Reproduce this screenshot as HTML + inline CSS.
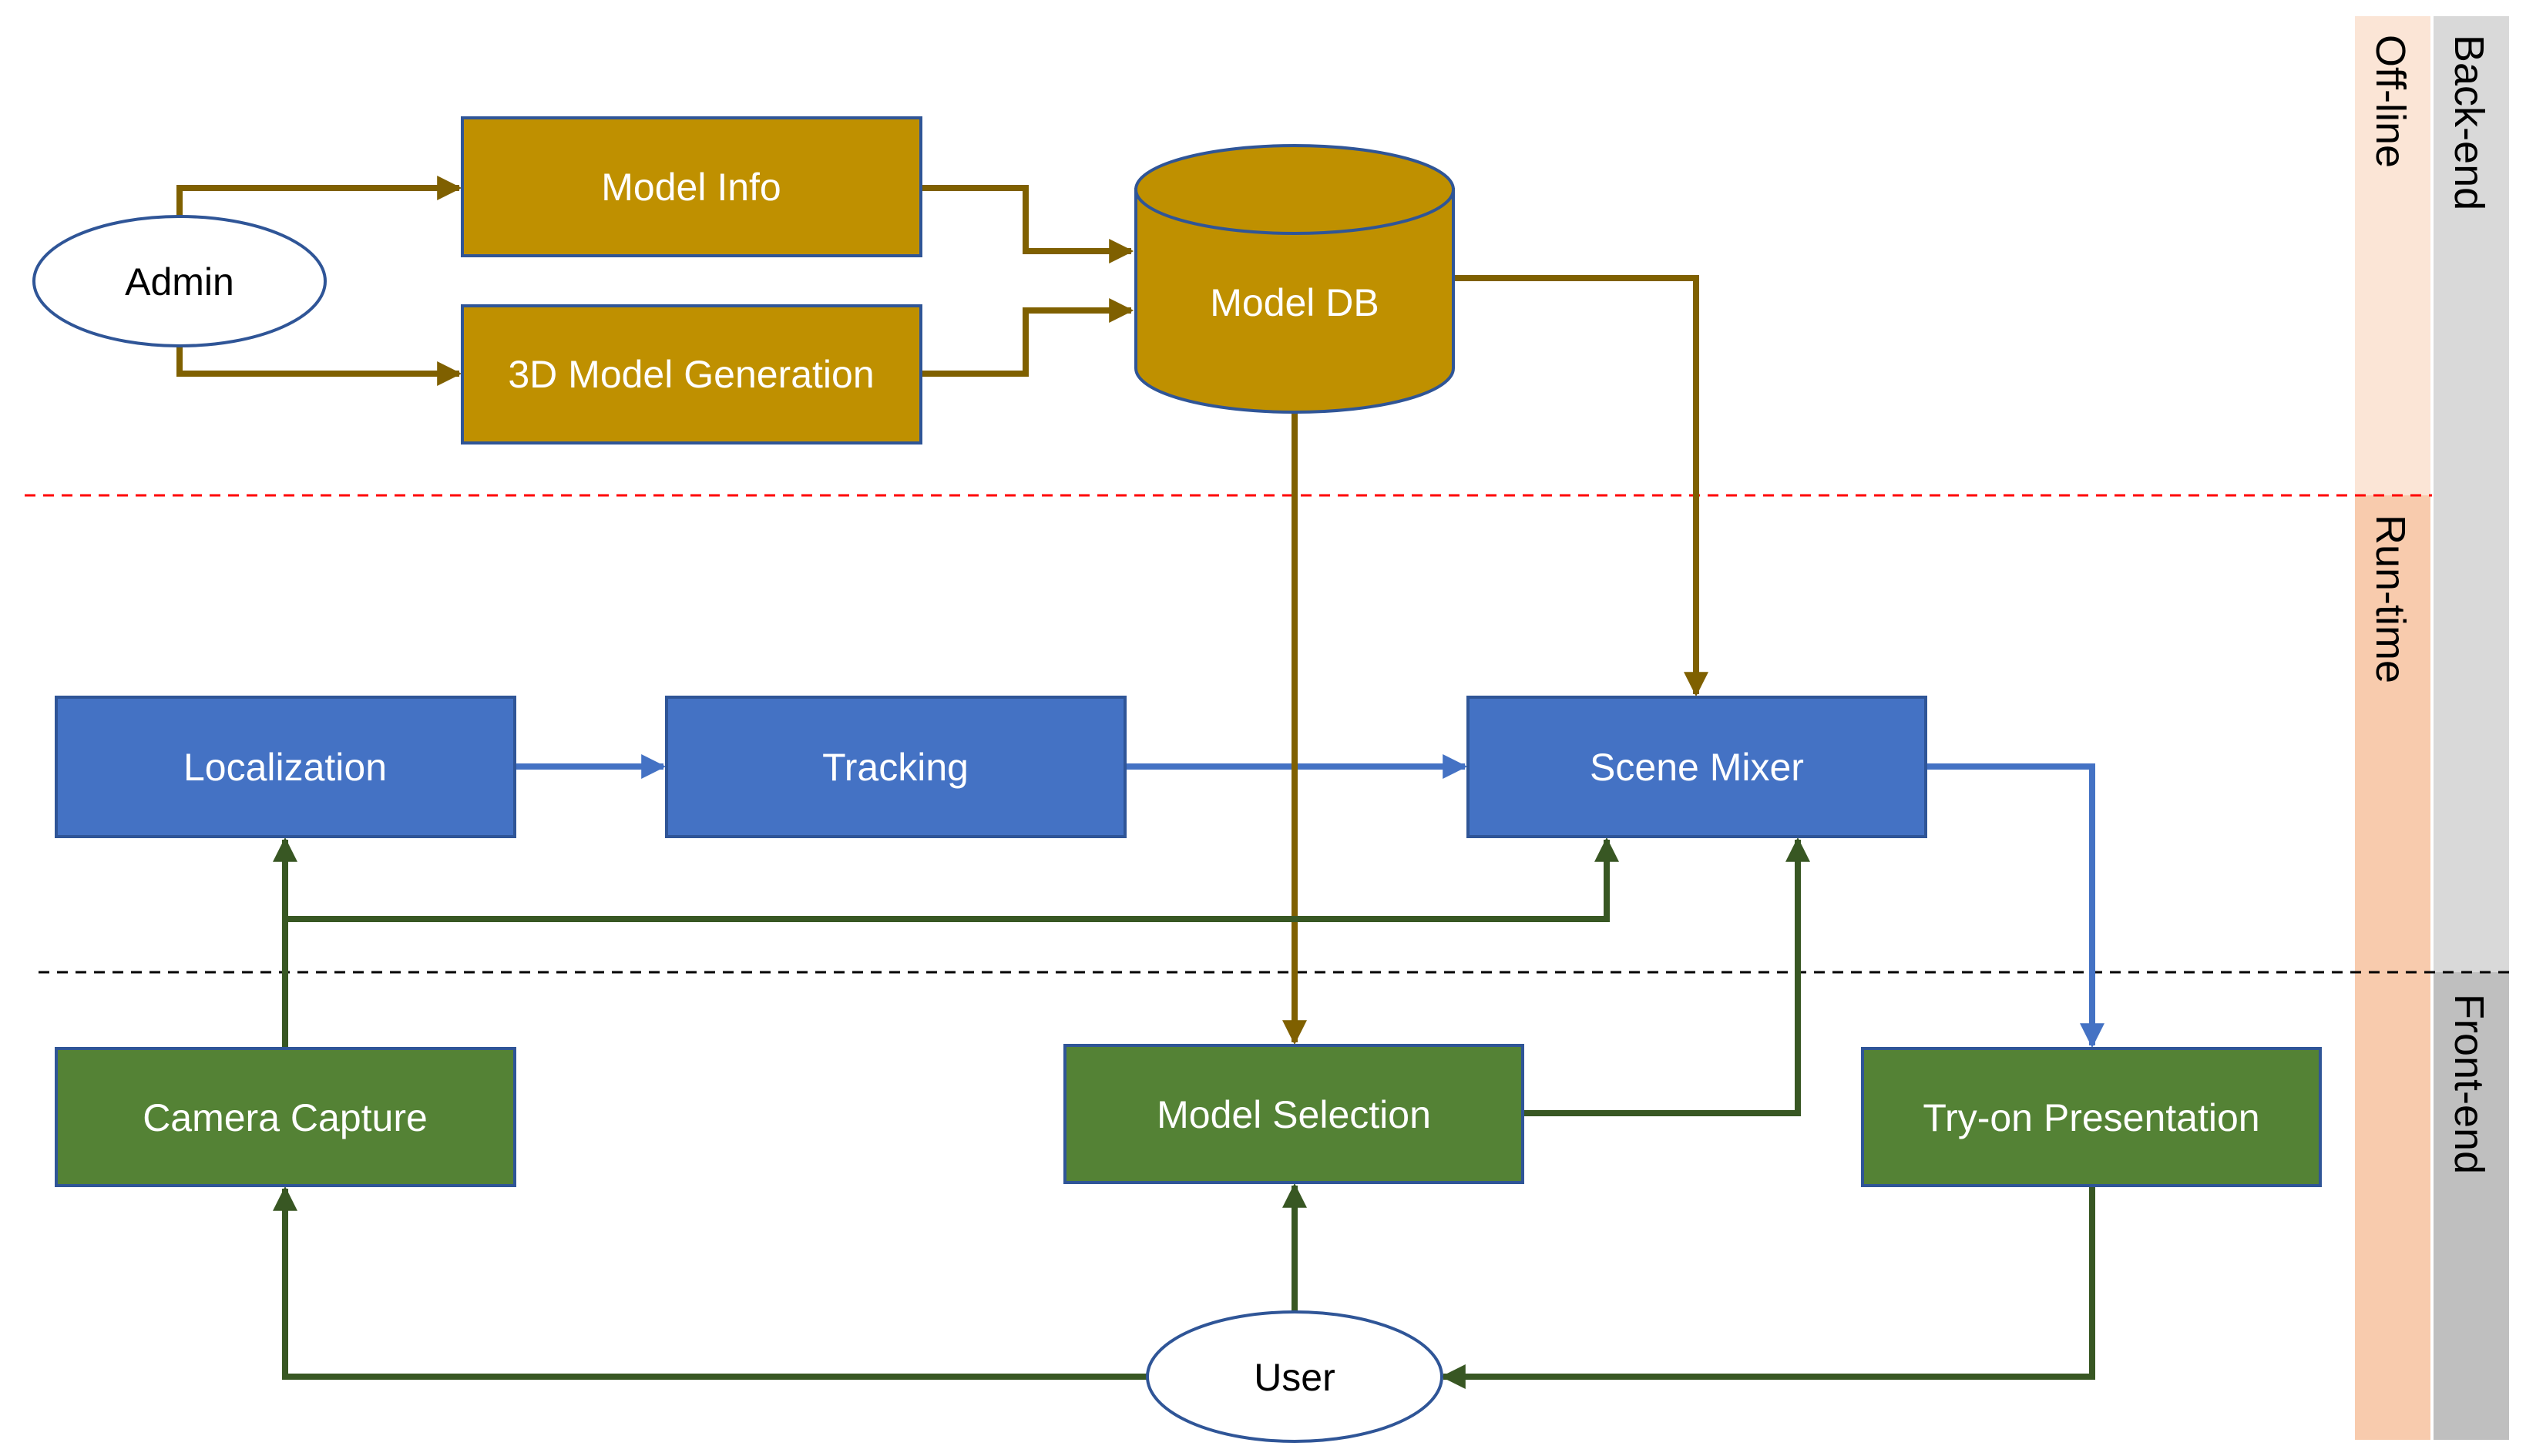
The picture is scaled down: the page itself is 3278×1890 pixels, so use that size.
<!DOCTYPE html>
<html><head><meta charset="utf-8"><style>
html,body{margin:0;padding:0;background:#fff}
svg{display:block}
text{font-family:"Liberation Sans",sans-serif}
</style></head><body>
<svg width="3278" height="1890" viewBox="0 0 3278 1890" xmlns="http://www.w3.org/2000/svg">
<defs>
<marker id="ag" markerWidth="4" markerHeight="4" refX="3.6" refY="2" orient="auto" markerUnits="strokeWidth"><path d="M0,0 L4,2 L0,4 Z" fill="#7F6000"/></marker>
<marker id="ab" markerWidth="4" markerHeight="4" refX="3.6" refY="2" orient="auto" markerUnits="strokeWidth"><path d="M0,0 L4,2 L0,4 Z" fill="#4472C4"/></marker>
<marker id="an" markerWidth="4" markerHeight="4" refX="3.6" refY="2" orient="auto" markerUnits="strokeWidth"><path d="M0,0 L4,2 L0,4 Z" fill="#385723"/></marker>
</defs>
<!-- side bands -->
<rect x="3056" y="21" width="98" height="622" fill="#FBE5D6"/>
<rect x="3056" y="643" width="98" height="1226" fill="#F8CBAD"/>
<rect x="3158" y="21" width="98" height="1241" fill="#D9D9D9"/>
<rect x="3158" y="1262" width="98" height="607" fill="#BFBFBF"/>
<text transform="translate(3084,45) rotate(90)" font-size="54" fill="#000">Off-line</text>
<text transform="translate(3084,668) rotate(90)" font-size="54" fill="#000">Run-time</text>
<text transform="translate(3186,45) rotate(90)" font-size="54" fill="#000">Back-end</text>
<text transform="translate(3186,1290) rotate(90)" font-size="54" fill="#000">Front-end</text>
<!-- dashed lines -->
<line x1="32" y1="643" x2="3156" y2="643" stroke="#FF0000" stroke-width="3" stroke-dasharray="14,10"/>
<line x1="50" y1="1262" x2="3256" y2="1262" stroke="#000" stroke-width="3" stroke-dasharray="14,10"/>

<g fill="none" stroke="#7F6000" stroke-width="8">
<polyline points="233,281 233,244 596,244" marker-end="url(#ag)"/>
<polyline points="233,449 233,485 596,485" marker-end="url(#ag)"/>
<polyline points="1195,244 1331,244 1331,326 1468,326" marker-end="url(#ag)"/>
<polyline points="1195,485 1331,485 1331,403 1468,403" marker-end="url(#ag)"/>
<polyline points="1886,361 2201,361 2201,901" marker-end="url(#ag)"/>
</g>
<g fill="none" stroke="#4472C4" stroke-width="8">
<line x1="668" y1="995" x2="861" y2="995" marker-end="url(#ab)"/>
<line x1="1460" y1="995" x2="1901" y2="995" marker-end="url(#ab)"/>
<polyline points="2499,995 2715,995 2715,1357" marker-end="url(#ab)"/>
</g>
<line x1="1680" y1="535" x2="1680" y2="1353" stroke="#7F6000" stroke-width="8" marker-end="url(#ag)"/>
<g fill="none" stroke="#385723" stroke-width="8">
<line x1="370" y1="1361" x2="370" y2="1090" marker-end="url(#an)"/>
<polyline points="370,1193 2085,1193 2085,1090" marker-end="url(#an)"/>
<polyline points="1976,1445 2333,1445 2333,1090" marker-end="url(#an)"/>
<line x1="1680" y1="1703" x2="1680" y2="1539" marker-end="url(#an)"/>
<polyline points="1488,1787 370,1787 370,1543" marker-end="url(#an)"/>
<polyline points="2715,1539 2715,1787 1873,1787" marker-end="url(#an)"/>
</g>

<g stroke="#2F5597" stroke-width="4">
<ellipse cx="233" cy="365" rx="189" ry="84" fill="#fff"/>
<rect x="600" y="153" width="595" height="179" fill="#BF9000"/>
<rect x="600" y="397" width="595" height="178" fill="#BF9000"/>
<path d="M1474,246 L1474,478 A206,57 0 0 0 1886,478 L1886,246 Z" fill="#BF9000"/>
<ellipse cx="1680" cy="246" rx="206" ry="57" fill="#BF9000"/>
<rect x="73" y="905" width="595" height="181" fill="#4472C4"/>
<rect x="865" y="905" width="595" height="181" fill="#4472C4"/>
<rect x="1905" y="905" width="594" height="181" fill="#4472C4"/>
<rect x="73" y="1361" width="595" height="178" fill="#548235"/>
<rect x="1382" y="1357" width="594" height="178" fill="#548235"/>
<rect x="2417" y="1361" width="594" height="178" fill="#548235"/>
<ellipse cx="1680" cy="1787" rx="191" ry="84" fill="#fff"/>
</g>
<g font-size="50" text-anchor="middle" fill="#fff">
<text x="233" y="383" fill="#000">Admin</text>
<text x="897" y="260">Model Info</text>
<text x="897" y="503">3D Model Generation</text>
<text x="1680" y="410">Model DB</text>
<text x="370" y="1013">Localization</text>
<text x="1162" y="1013">Tracking</text>
<text x="2202" y="1013">Scene Mixer</text>
<text x="370" y="1468">Camera Capture</text>
<text x="1679" y="1464">Model Selection</text>
<text x="2714" y="1468">Try-on Presentation</text>
<text x="1680" y="1805" fill="#000">User</text>
</g>
</svg>
</body></html>
